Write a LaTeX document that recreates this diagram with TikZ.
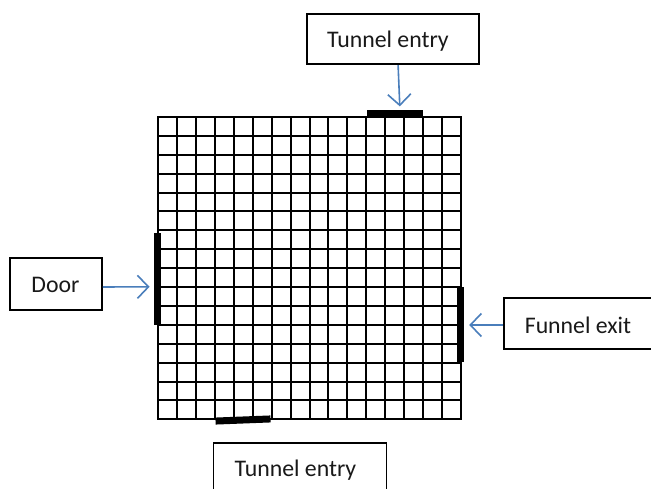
\documentclass[tikz,border=0pt]{standalone}
\usepackage{fontspec}
\setmainfont{Carlito}
\usetikzlibrary{arrows.meta}
\definecolor{arrowblue}{HTML}{4A7EBB}
\tikzset{
  labelbox/.style={draw=black,line width=1.8pt,fill=white,inner sep=0pt},
  labeltext/.style={inner sep=0pt,font=\fontsize{23.8}{26}\selectfont,text=black!90},
  wallbar/.style={fill=black,inner sep=0pt,draw=none},
  pointer/.style={draw=arrowblue,line width=1.6pt,-{Straight Barb[length=11pt,width=23pt,line width=1.6pt]}},
  gridline/.style={draw=black,line width=2pt}
}
\begin{document}
\begin{tikzpicture}[x=1pt,y=-1pt]
\useasboundingbox (0,0) rectangle (651,489);
\clip (0,0) rectangle (651,489);
\fill[white] (0,0) rectangle (651,489);
% grid
\foreach \i in {0,...,16}{
  \pgfmathsetmacro{\gx}{round(158+\i*18.94)}
  \pgfmathsetmacro{\gy}{round(117+\i*18.9)}
  \draw[gridline] (\gx,117) -- (\gx,419);
  \draw[gridline,line cap=rect] (158,\gy) -- (461,\gy);
}
% bars
\node[wallbar,minimum width=56.5pt,minimum height=7.5pt] (topbar) at (394.8,113.8) {};
\node[wallbar,minimum width=7.5pt,minimum height=92.5pt] (doorbar) at (157.5,278.8) {};
\node[wallbar,minimum width=7.5pt,minimum height=75.5pt] (exitbar) at (460.3,324.5) {};
\node[wallbar,minimum width=55pt,minimum height=7pt,rotate=2.2] (botbar) at (243,420) {};
% boxes
\node[labelbox,minimum width=172pt,minimum height=50.5pt] (tunneltop) at (392.6,39) {};
\node[labeltext] (tunneltoptext) at (388,41.5) {Tunnel entry};
\node[labelbox,minimum width=92pt,minimum height=52pt] (door) at (56,284) {};
\node[labeltext] (doortext) at (55.5,285) {Door};
\node[labelbox,minimum width=150pt,minimum height=51pt,anchor=west] (exit) at (503,323.5) {};
\node[labeltext] (exittext) at (578,325) {Funnel exit};
\node[labelbox,minimum width=173pt,minimum height=80pt,anchor=north] (tunnelbot) at (300,441.7) {};
\node[labeltext] (tunnelbottext) at (295.5,470) {Tunnel entry};
% pointers
\draw[pointer] ([xshift=5.5pt]tunneltop.south) -- ([xshift=5pt,yshift=3.5pt]topbar.north);
\draw[pointer] ([yshift=-3pt]door.east) -- ([xshift=-4pt,yshift=-8pt]doorbar.west);
\draw[pointer] ([yshift=-1.5pt]exit.west) -- ([xshift=5pt,yshift=-0.5pt]exitbar.east);
\end{tikzpicture}
\end{document}
